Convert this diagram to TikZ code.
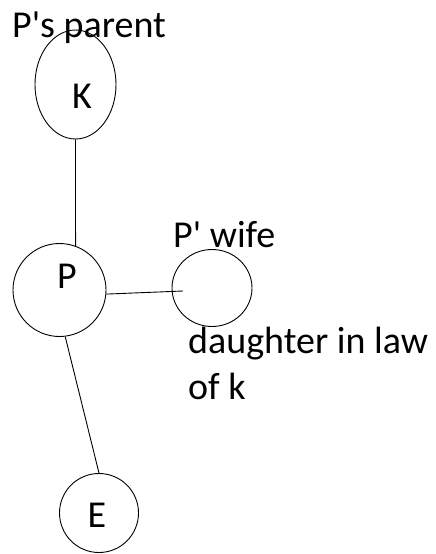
\documentclass[tikz,border=0pt]{standalone}
\usepackage{fontspec}
\setmainfont{Carlito}
\usepackage{tikz}
\usetikzlibrary{positioning}
\usetikzlibrary{shapes.geometric}
\tikzset{person/.style={circle, draw=black, line width=0.9pt, inner sep=0pt}}
\tikzset{oval/.style={ellipse, draw=black, line width=0.9pt, inner sep=0pt}}
\tikzset{big/.style={font=\fontsize{38}{46}\selectfont, inner sep=0pt}}

\begin{document}
\begin{tikzpicture}[x=1pt,y=-1pt]
        \useasboundingbox (0,0) rectangle (436,554);
        \node [oval, minimum width=81pt, minimum height=109pt](K) at (75.5,84.5){};
        \node [person, minimum size=93pt](P) at (59.5,290){};
        \node [oval, minimum width=80pt, minimum height=77pt](wife) at (212,288){};
        \node [person, minimum size=79pt](E) at (99,513){};
        \coordinate (wifeend) at (183,291);

        \node [big, anchor=base](Klabel) at (82,108){K};
        \node [big, anchor=base](Plabel) at (67,288){P};
        \node [big, anchor=base](Elabel) at (97,527){E};
        \node [big, anchor=base west](parent) at (12,37){P\textquotesingle s parent};
        \node [big, anchor=base west](wifelabel) at (173,247){P\textquotesingle\ wife};
        \node [big, anchor=base west](inlaw) at (188,353){daughter in law};
        \node [big, anchor=base west](ofk) at (188,399){of k};

        \draw [line width=0.9pt] (K.south) -- (P.70);
        \draw [line width=0.9pt] (P.-5) -- (wifeend);
        \draw [line width=0.9pt] (P.-83) -- (E.north);
\end{tikzpicture}
\end{document}
